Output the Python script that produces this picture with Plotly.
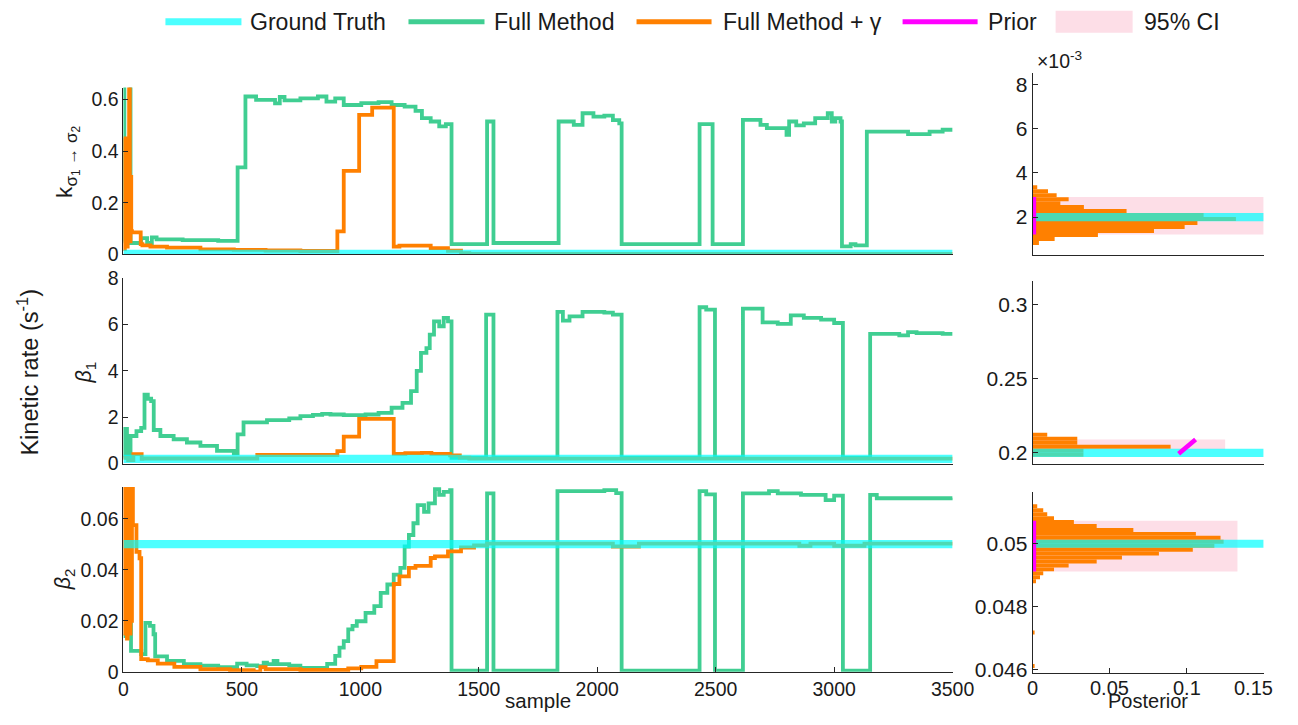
import plotly.graph_objects as go

W, H = 1298, 725

# calibration of where the figure lands in the photographed picture
# (picture px = offset + scale * page px); layout positions below are given in
# picture pixels and converted back to page pixels.
PX_S, PX_O = 0.979, 4.6
PY_S, PY_O = 0.971, 9.3
FS = 1 / 0.975  # font compensation

GREEN = "rgb(64,206,146)"
ORANGE = "rgb(255,128,0)"
CYAN = "rgba(0,255,255,0.7)"
MAGENTA = "rgb(255,0,255)"
PINK = "rgb(253,222,231)"
AX = "#262626"
TXT = "#1a1a1a"
FONT = "Liberation Sans, Arial, sans-serif"

# ---------------- data ----------------
gt_k, gt_b1, gt_b2 = 0.002, 0.2, 0.05

green_k_s = [0, 4, 30, 75, 100, 120, 140, 250, 400, 482, 515, 560, 640, 660, 680, 747, 821, 857, 894, 930,
             1004, 1077, 1132, 1187, 1233, 1260, 1297, 1333, 1361, 1385, 1535, 1562, 1837, 1901, 1938, 1984,
             2030, 2066, 2093, 2103, 2432, 2487, 2615, 2689, 2716, 2799, 2810, 2840, 2872, 2920, 2973, 2990,
             3005, 3027, 3033, 3070, 3090, 3138, 3312, 3403, 3458, 3500]
green_k_v = [0.05, 0.9, 0.044, 0.063, 0.044, 0.066, 0.058, 0.055, 0.052, 0.337, 0.612, 0.599, 0.585, 0.61, 0.597,
             0.605, 0.612, 0.592, 0.605, 0.579, 0.586, 0.590, 0.579, 0.573, 0.556, 0.528, 0.515, 0.496, 0.505,
             0.040, 0.515, 0.044, 0.515, 0.502, 0.547, 0.534, 0.538, 0.520, 0.508, 0.040, 0.505, 0.040, 0.521,
             0.502, 0.489, 0.463, 0.515, 0.500, 0.508, 0.528, 0.547, 0.515, 0.528, 0.515, 0.031, 0.040, 0.035,
             0.476, 0.466, 0.476, 0.483, 0.483]
orange_k_s = [0, 3, 6, 9, 12, 15, 18, 21, 24, 27, 30, 33, 36, 56, 73, 80, 114, 184, 325, 466, 600, 747, 903,
              930, 995, 1050, 1141, 1165, 1224, 1297, 1370, 1425, 1460, 3500]
orange_k_v = [0.45, 0.02, 0.44, 0.05, 0.42, 0.03, 0.45, 0.1, 0.7, 0.05, 0.3, 0.09, 0.085, 0.085, 0.04, 0.035,
              0.03, 0.026, 0.0195, 0.017, 0.015, 0.013, 0.089, 0.324, 0.541, 0.569, 0.030, 0.034, 0.034, 0.024,
              0.014, 0.005, 0.002, 0.002]

green_b1_s = [0, 5, 15, 30, 55, 75, 89, 103, 117, 128, 156, 212, 268, 325, 395, 466, 482, 507, 606, 700, 747,
              800, 839, 874, 930, 1022, 1077, 1132, 1178, 1214, 1238, 1256, 1279, 1293, 1311, 1333, 1352, 1370,
              1385, 1531, 1562, 1832, 1855, 1883, 1938, 2030, 2066, 2103, 2432, 2460, 2497, 2615, 2698, 2762,
              2817, 2872, 2945, 3000, 3037, 3152, 3275, 3312, 3348, 3458, 3500]
green_b1_v = [0.3, 1.5, 0.25, 1.19, 1.40, 1.54, 2.98, 2.8, 2.7, 1.45, 1.19, 1.05, 0.91, 0.76, 0.55, 0.44, 1.26,
              1.78, 1.88, 1.95, 2.05, 2.1, 2.15, 2.12, 2.09, 2.12, 2.19, 2.41, 2.62, 3.13, 4.0, 4.78, 4.99, 5.57,
              6.14, 5.93, 6.29, 6.14, 0.25, 6.43, 0.25, 6.55, 6.17, 6.36, 6.55, 6.52, 6.43, 0.25, 6.75, 6.65,
              0.25, 6.69, 6.10, 6.03, 6.40, 6.29, 6.22, 6.07, 0.25, 5.60, 5.54, 5.68, 5.63, 5.60, 5.60]
orange_b1_s = [0, 20, 42, 77, 80, 565, 903, 930, 995, 1141, 1190, 1260, 1300, 1379, 1420, 1460, 3500]
orange_b1_v = [0.25, 0.15, 0.41, 0.2, 0.22, 0.37, 0.54, 1.16, 1.93, 0.42, 0.45, 0.46, 0.42, 0.35, 0.26, 0.21, 0.21]

green_b2_s = [0, 10, 25, 32, 75, 93, 112, 127, 134, 184, 255, 325, 400, 466, 480, 520, 565, 592, 606, 634, 650,
              700, 747, 839, 860, 894, 912, 930, 949, 967, 985, 1022, 1059, 1086, 1114, 1141, 1169, 1187, 1205,
              1224, 1242, 1269, 1288, 1315, 1333, 1352, 1379, 1385, 1535, 1562, 1832, 2030, 2080, 2103, 2432,
              2460, 2497, 2615, 2725, 2762, 2860, 2964, 3000, 3037, 3152, 3180, 3500]
green_b2_v = [0.014, 0.019, 0.0296, 0.0082, 0.0069, 0.0192, 0.018, 0.0147, 0.006, 0.0043, 0.003, 0.0024,
              0.0018, 0.0015, 0.0032, 0.0025, 0.0022, 0.0036, 0.003, 0.0043, 0.003, 0.0024, 0.0015, 0.0015,
              0.0031, 0.0062, 0.0095, 0.012, 0.0166, 0.018, 0.0198, 0.0231, 0.0257, 0.0309, 0.0342, 0.0381,
              0.0407, 0.0491, 0.0536, 0.0582, 0.0653, 0.0627, 0.066, 0.0716, 0.0693, 0.0705, 0.0712, 0.0004,
              0.0699, 0.0004, 0.0708, 0.0712, 0.0700, 0.0004, 0.0708, 0.0695, 0.0004, 0.0699, 0.0708, 0.0699,
              0.0693, 0.0673, 0.0690, 0.0004, 0.0693, 0.0680, 0.0682]
orange_b2_s = [0, 3, 6, 9, 12, 15, 18, 21, 24, 27, 30, 33, 36, 40, 55, 68, 75, 103, 145, 215, 325, 450, 550,
               578, 600, 747, 949, 1004, 1068, 1141, 1165, 1205, 1233, 1297, 1315, 1370, 1425, 1480, 1535, 2066,
               2176, 2853, 2900, 3000, 3128, 3500]
orange_b2_v = [0.075, 0.015, 0.075, 0.02, 0.075, 0.013, 0.072, 0.03, 0.075, 0.015, 0.06, 0.02, 0.075, 0.0575,
               0.047, 0.0445, 0.005, 0.0045, 0.0032, 0.0019, 0.001, 0.0006, 0.0001, 0.0018, 0.001, 0.0007,
               0.0013, 0.0019, 0.0042, 0.0344, 0.0374, 0.0407, 0.0415, 0.0446, 0.0452, 0.0472, 0.0487, 0.0495,
               0.0502, 0.0491, 0.0502, 0.0494, 0.0502, 0.0494, 0.0502, 0.0502]

hist_k_centers = [0.00083, 0.00101, 0.00119, 0.00137, 0.00155, 0.00173, 0.00191, 0.00209, 0.00227, 0.00245,
                  0.00263, 0.00281, 0.00299, 0.00317, 0.00335]
hist_k_heights = [0.0041, 0.0143, 0.0424, 0.0788, 0.0987, 0.107, 0.132, 0.111, 0.061, 0.0333, 0.018, 0.0234,
                  0.0156, 0.0100, 0.003]
hist_k_binw = 0.00018
hist_b1_centers = [0.19865, 0.20135, 0.20405, 0.20675, 0.20945, 0.21215]
hist_b1_heights = [0.033, 0.033, 0.0896, 0.029, 0.029, 0.0095]
hist_b1_binw = 0.0027
hist_b2_centers = [0.046125, 0.047188, 0.048813, 0.048938, 0.049063, 0.049188, 0.049313, 0.049438, 0.049563,
                   0.049688, 0.049813, 0.049938, 0.050063, 0.050188, 0.050313, 0.050438, 0.050563, 0.050688,
                   0.050813, 0.050938, 0.051063, 0.051188]
hist_b2_heights = [0.0012, 0.0012, 0.0022, 0.0048, 0.0069, 0.0139, 0.0234, 0.0416, 0.058, 0.082, 0.104, 0.118,
                   0.124, 0.122, 0.106, 0.0654, 0.0416, 0.0268, 0.0139, 0.0095, 0.0069, 0.003]
hist_b2_binw = 0.000125

ci_k = [0.00121, 0.00291]
ci_b1 = [0.2022, 0.2090]
ci_b2 = [0.049124, 0.050727]
ci_k_w, ci_b1_w, ci_b2_w = 0.15, 0.125, 0.133

prior_k_x, prior_k_y = [0.0008, 0.0008], [0.00121, 0.00291]
prior_b1_x, prior_b1_y = [0.0948, 0.1058], [0.1993, 0.2090]
prior_b2_x, prior_b2_y = [0.0008, 0.0008], [0.049124, 0.050727]

sample_ticks = [0, 500, 1000, 1500, 2000, 2500, 3000, 3500]
post_ticks = [0, 0.05, 0.1, 0.15]
post_tick_labels = ["0", "0.05", "0.1", "0.15"]
sample_max = 3500
post_max = 0.15

# ---------------- figure ----------------
fig = go.Figure()


def trace_panel(xa, ya, gs, gv, os_, ov, gt):
    fig.add_trace(go.Scatter(x=gs, y=gv, mode="lines", line=dict(color=GREEN, width=3.8, shape="hv"),
                             xaxis=xa, yaxis=ya, showlegend=False, hoverinfo="skip"))
    fig.add_trace(go.Scatter(x=os_, y=ov, mode="lines", line=dict(color=ORANGE, width=3.8, shape="hv"),
                             xaxis=xa, yaxis=ya, showlegend=False, hoverinfo="skip"))
    fig.add_trace(go.Scatter(x=[0, sample_max], y=[gt, gt], mode="lines", line=dict(color=CYAN, width=8.2),
                             xaxis=xa, yaxis=ya, showlegend=False, hoverinfo="skip"))


def post_panel(xa, ya, centers, heights, binw, ci, ciw, px_, py_, gt):
    fig.add_trace(go.Bar(x=[ciw], y=[(ci[0] + ci[1]) / 2], width=[ci[1] - ci[0]], orientation="h",
                         marker=dict(color=PINK, line=dict(width=0)),
                         xaxis=xa, yaxis=ya, showlegend=False, hoverinfo="skip"))
    fig.add_trace(go.Bar(x=heights, y=centers, orientation="h", width=binw,
                         marker=dict(color=ORANGE, line=dict(width=0)),
                         xaxis=xa, yaxis=ya, showlegend=False, hoverinfo="skip"))
    fig.add_trace(go.Scatter(x=[0, post_max], y=[gt, gt], mode="lines", line=dict(color=CYAN, width=8.2),
                             xaxis=xa, yaxis=ya, showlegend=False, hoverinfo="skip"))
    fig.add_trace(go.Scatter(x=px_, y=py_, mode="lines", line=dict(color=MAGENTA, width=4.6),
                             xaxis=xa, yaxis=ya, showlegend=False, hoverinfo="skip"))


trace_panel("x", "y", green_k_s, green_k_v, orange_k_s, orange_k_v, gt_k)
trace_panel("x2", "y2", green_b1_s, green_b1_v, orange_b1_s, orange_b1_v, gt_b1)
trace_panel("x3", "y3", green_b2_s, green_b2_v, orange_b2_s, orange_b2_v, gt_b2)
post_panel("x4", "y4", hist_k_centers, hist_k_heights, hist_k_binw, ci_k, ci_k_w, prior_k_x, prior_k_y, gt_k)
post_panel("x5", "y5", hist_b1_centers, hist_b1_heights, hist_b1_binw, ci_b1, ci_b1_w, prior_b1_x, prior_b1_y, gt_b1)
post_panel("x6", "y6", hist_b2_centers, hist_b2_heights, hist_b2_binw, ci_b2, ci_b2_w, prior_b2_x, prior_b2_y, gt_b2)


def page_x(p):
    return (p - PX_O) / PX_S


def page_y(p):
    return (p - PY_O) / PY_S


def fx(p):
    return page_x(p) / W


def fy(p):
    return 1 - page_y(p) / H


LX = [fx(123), fx(952)]
RX = [fx(1032), fx(1263)]

base = dict(showline=True, linecolor=AX, linewidth=1, showgrid=False, zeroline=False,
            ticks="inside", ticklen=5, tickcolor=AX, tickwidth=1,
            tickfont=dict(family=FONT, size=19 * FS, color=TXT))
noticks = dict(ticks="", showticklabels=False)
rbase = dict(base, tickfont=dict(family=FONT, size=20.5 * FS, color=TXT))

layout_axes = dict(
    xaxis=dict(base, **noticks, domain=LX, range=[0, sample_max], anchor="y"),
    yaxis=dict(base, domain=[fy(253), fy(86)], range=[0, 0.6465], anchor="x",
               tickvals=[0, 0.2, 0.4, 0.6], ticktext=["0", "0.2", "0.4", "0.6"]),
    xaxis2=dict(base, **noticks, domain=LX, range=[0, sample_max], anchor="y2"),
    yaxis2=dict(base, domain=[fy(462.5), fy(277)], range=[0, 8], anchor="x2",
                tickvals=[0, 2, 4, 6, 8]),
    xaxis3=dict(base, domain=LX, range=[0, sample_max], anchor="y3",
                tickvals=sample_ticks),
    yaxis3=dict(base, domain=[fy(671), fy(486)], range=[0, 0.0724], anchor="x3",
                tickvals=[0, 0.02, 0.04, 0.06], ticktext=["0", "0.02", "0.04", "0.06"]),
    xaxis4=dict(rbase, **noticks, domain=RX, range=[0, post_max], anchor="y4"),
    yaxis4=dict(rbase, domain=[fy(253.3), fy(71.7)], range=[0.0003, 0.0085], anchor="x4",
                tickvals=[0.002, 0.004, 0.006, 0.008], ticktext=["2", "4", "6", "8"]),
    xaxis5=dict(rbase, **noticks, domain=RX, range=[0, post_max], anchor="y5"),
    yaxis5=dict(rbase, domain=[fy(463.3), fy(280)], range=[0.1922, 0.3157], anchor="x5",
                tickvals=[0.2, 0.25, 0.3], ticktext=["0.2", "0.25", "0.3"]),
    # tick marks only; the labels are placed as annotations (tight bottom edge)
    xaxis6=dict(rbase, domain=RX, range=[0, post_max], anchor="y6",
                tickvals=post_ticks, showticklabels=False),
    yaxis6=dict(rbase, domain=[fy(672.3), fy(490.7)], range=[0.0459, 0.05165], anchor="x6",
                tickvals=[0.046, 0.048, 0.05], ticktext=["0.046", "0.048", "0.05"]),
)


def ann(text, x, y, size, angle=0, xanchor="center", yanchor="middle", page=False):
    return dict(text=text, x=(x / W) if page else fx(x), y=(1 - y / H) if page else fy(y),
                xref="paper", yref="paper", showarrow=False,
                textangle=angle, xanchor=xanchor, yanchor=yanchor,
                font=dict(family=FONT, size=size * FS, color=TXT))


annotations = [
    ann("k<sub><span style='font-size:17px'>σ<sub>1</sub> → σ<sub>2</sub></span></sub>", 67, 160, 22, -90),
    ann("<i>β</i><sub>1</sub>", 85, 371, 21, -90),
    ann("<i>β</i><sub>2</sub>", 65, 578, 21, -90),
    ann("Kinetic rate (s<sup>-1</sup>)", 28, 371, 23, -90),
    ann("sample", page_x(537), 725, 20, yanchor="bottom", page=True),
    ann("Posterior", page_x(1147), 725, 19.5, yanchor="bottom", page=True),
    ann("×10<sup>-3</sup>", 1034, 58, 19, 0, "left"),
]

# bottom-right posterior tick labels
POST_LBL_Y = 674.5
for val, lbl in zip(post_ticks, post_tick_labels):
    if val < post_max:
        annotations.append(dict(text=lbl, x=val, xref="x6", y=fy(POST_LBL_Y), yref="paper",
                                showarrow=False, xanchor="center", yanchor="top",
                                font=dict(family=FONT, size=19.5 * FS, color=TXT)))
    else:
        annotations.append(ann(lbl, 1297, page_y(POST_LBL_Y), 19.5, 0, "right", "top", page=True))

LEG_Y = 20
legend_items = [
    ("line", CYAN, 7, 165, 241, "Ground Truth", 248),
    ("line", GREEN, 5, 408, 484, "Full Method", 492),
    ("line", ORANGE, 5, 636, 711, "Full Method + γ", 720),
    ("line", MAGENTA, 5, 902, 977, "Prior", 985),
    ("rect", PINK, 0, 1055, 1132, "95% CI", 1141),
]
shapes = []
for kind, col, lw, x0, x1, label, tx in legend_items:
    if kind == "line":
        shapes.append(dict(type="line", xref="paper", yref="paper", x0=fx(x0), x1=fx(x1),
                           y0=fy(LEG_Y), y1=fy(LEG_Y), line=dict(color=col, width=lw)))
    else:
        shapes.append(dict(type="rect", xref="paper", yref="paper", x0=fx(x0), x1=fx(x1),
                           y0=fy(LEG_Y + 11), y1=fy(LEG_Y - 11), fillcolor=col, line=dict(width=0)))
    annotations.append(ann(label, tx, LEG_Y, 22.5, 0, "left"))

fig.update_layout(
    width=W, height=H, margin=dict(l=0, r=0, t=0, b=0),
    paper_bgcolor="white", plot_bgcolor="white",
    barmode="overlay", showlegend=False,
    annotations=annotations, shapes=shapes,
    font=dict(family=FONT, color=TXT),
    **layout_axes,
)

fig.write_html("out.html", include_plotlyjs=True, config={"displayModeBar": False})
